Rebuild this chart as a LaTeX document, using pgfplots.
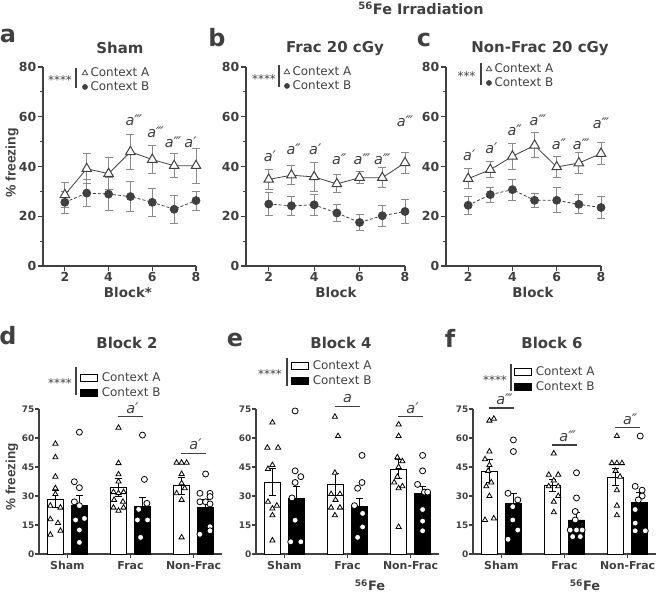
\documentclass[border=0pt]{standalone}
\usepackage{fontspec}
\setmainfont{DejaVu Sans}
\setsansfont{DejaVu Sans}
\newfontfamily\lib{Liberation Sans}
\usepackage{pgfplots}
\pgfplotsset{compat=1.18}
\definecolor{dg}{HTML}{404040}
\definecolor{eg}{HTML}{8A8A8A}
\newcommand{\fs}[1]{\fontsize{#1}{#1}\selectfont}
\newcommand{\ann}[1]{{\itshape\fs{14.5}#1}}

\pgfplotsset{
  dotlegend/.style={legend image code/.code={\draw[##1] plot coordinates {(0bp,0bp)};}},
  boxlegend/.style={legend image code/.code={\draw[##1] (0bp,-3.5bp) rectangle (17bp,3.5bp);}},
  common/.style={scale only axis, axis lines*=left, tick align=outside, clip=false,
     axis line style={line width=1.2bp, dg},
     tick style={line width=1.1bp, dg},
     /pgf/number format/assume math mode=true,
     legend cell align=left},
  topax/.style={common, height=199bp, xmin=1, xmax=8, ymin=0, ymax=80,
     xtick={2,4,6,8}, ytick={0,20,40,60,80}, minor ytick={10,30,50,70},
     major tick length=5bp, minor tick length=3bp,
     tick label style={text=dg, font={\fs{12.5}\bfseries}, inner sep=1.5bp},
     legend style={draw=none, fill=none, font=\fs{12}, text=dg, inner sep=0pt,
        row sep=1.8bp, anchor=north west, nodes={inner sep=0.8bp},
        /tikz/every odd column/.append style={column sep=2bp}}},
  botax/.style={common, width=183bp, height=145bp, xmin=-0.45, xmax=2.45, ymin=0, ymax=75,
     ytick={0,15,30,45,60,75}, xtick={0,1,2}, xticklabels={Sham,Frac,Non-Frac},
     major tick length=4bp,
     xticklabel style={text=dg, font={\fs{11}\bfseries}, inner sep=3bp},
     yticklabel style={text=dg, font={\fs{9}\bfseries}, inner sep=0.5bp},
     legend style={draw=none, fill=none, font=\fs{12}, text=dg, inner sep=0pt,
        row sep=3bp, anchor=north west, nodes={inner sep=0.8bp},
        /tikz/every odd column/.append style={column sep=3bp}}},
  ebtop/.style={forget plot, draw=none, mark=none, error bars/.cd, y dir=both, y explicit,
     error bar style={draw=eg, line width=1bp, solid},
     error mark options={draw=eg, rotate=90, mark size=4bp, line width=1bp, solid}},
  lineA/.style={forget plot, dg, line width=0.8bp, mark=triangle*, mark size=5.5bp,
     mark options={fill=white, line width=1bp}},
  lineB/.style={forget plot, dg, line width=0.8bp, dash pattern=on 3bp off 2bp, mark=*, mark size=4bp,
     mark options={solid, fill=dg}},
  barA/.style={forget plot, ybar, bar width=0.254, bar shift=0pt, fill=white, draw=black, line width=0.9bp,
     error bars/.cd, y dir=both, y explicit, error bar style={draw=black, line width=0.9bp},
     error mark options={draw=black, rotate=90, mark size=3.5bp, line width=0.9bp}},
  barB/.style={forget plot, ybar, bar width=0.254, bar shift=0pt, fill=black, draw=black, line width=0.9bp,
     error bars/.cd, y dir=both, y explicit, error bar style={draw=black, line width=0.9bp},
     error mark options={draw=black, rotate=90, mark size=3.5bp, line width=0.9bp}},
  ptA/.style={forget plot, only marks, mark=triangle*, mark size=3bp, mark options={fill=white, draw=black, line width=0.8bp}},
  ptB/.style={forget plot, only marks, mark=*, mark size=3bp, mark options={fill=white, draw=black, line width=0.8bp}},
}

\begin{document}
\begin{tikzpicture}[x=1bp,y=1bp]
\path[use as bounding box] (0,0) rectangle (660,594);

% ---------------- panel a ----------------
\begin{axis}[topax, at={(43bp,328bp)}, width=153bp, legend style={at={(0.255,1.0)}}]
\addplot[ebtop] coordinates {(2,28.6)+-(0,5) (3,39.1)+-(0,6) (4,37.1)+-(0,6.5) (5,45.9)+-(0,7) (6,42.8)+-(0,5.8) (7,40.3)+-(0,4.8) (8,40.3)+-(0,7)};
\addplot[ebtop] coordinates {(2,25.6)+-(0,4.5) (3,29.3)+-(0,5.5) (4,28.9)+-(0,6.5) (5,27.9)+-(0,6) (6,25.6)+-(0,5.7) (7,22.8)+-(0,5.7) (8,26.3)+-(0,3.8)};
\addplot[lineB] coordinates {(2,25.6) (3,29.3) (4,28.9) (5,27.9) (6,25.6) (7,22.8) (8,26.3)};
\addplot[lineA] coordinates {(2,28.6) (3,39.1) (4,37.1) (5,45.9) (6,42.8) (7,40.3) (8,40.3)};
\addlegendimage{dotlegend, dg, mark=triangle*, mark size=3.2bp, mark options={fill=white, line width=0.7bp}}
\addlegendentry{Context A}
\addlegendimage{dotlegend, dg, mark=*, mark size=2.6bp, mark options={fill=dg}}
\addlegendentry{Context B}
\node[anchor=base, text=dg] at (axis cs:5.15,56.6) {\ann{a‴}};
\node[anchor=base, text=dg] at (axis cs:6.15,51.7) {\ann{a‴}};
\node[anchor=base, text=dg] at (axis cs:6.95,47.7) {\ann{a‴}};
\node[anchor=base, text=dg] at (axis cs:7.75,47.7) {\ann{a′}};
\end{axis}

% ---------------- panel b ----------------
\begin{axis}[topax, at={(246bp,328bp)}, width=159bp, legend style={at={(0.239,1.005)}}]
\addplot[ebtop] coordinates {(2,34.8)+-(0,4) (3,36.5)+-(0,3.7) (4,35.8)+-(0,5.7) (5,33)+-(0,3.6) (6,35.5)+-(0,2.5) (7,35.5)+-(0,4) (8,41.5)+-(0,4.2)};
\addplot[ebtop] coordinates {(2,24.9)+-(0,4.8) (3,24.2)+-(0,3.8) (4,24.6)+-(0,4.2) (5,21.3)+-(0,3.5) (6,17.5)+-(0,3.3) (7,20.2)+-(0,4.2) (8,21.9)+-(0,4.7)};
\addplot[lineB] coordinates {(2,24.9) (3,24.2) (4,24.6) (5,21.3) (6,17.5) (7,20.2) (8,21.9)};
\addplot[lineA] coordinates {(2,34.8) (3,36.5) (4,35.8) (5,33) (6,35.5) (7,35.5) (8,41.5)};
\addlegendimage{dotlegend, dg, mark=triangle*, mark size=3.2bp, mark options={fill=white, line width=0.7bp}}
\addlegendentry{Context A}
\addlegendimage{dotlegend, dg, mark=*, mark size=2.6bp, mark options={fill=dg}}
\addlegendentry{Context B}
\node[anchor=base, text=dg] at (axis cs:2.05,42) {\ann{a′}};
\node[anchor=base, text=dg] at (axis cs:3.1,44.8) {\ann{a″}};
\node[anchor=base, text=dg] at (axis cs:4.05,44.8) {\ann{a′}};
\node[anchor=base, text=dg] at (axis cs:5.1,40.8) {\ann{a″}};
\node[anchor=base, text=dg] at (axis cs:6.1,40.8) {\ann{a‴}};
\node[anchor=base, text=dg] at (axis cs:7.0,40.8) {\ann{a‴}};
\node[anchor=base, text=dg] at (axis cs:8.0,56.2) {\ann{a‴}};
\end{axis}

% ---------------- panel c ----------------
\begin{axis}[topax, at={(446bp,328bp)}, width=155bp, legend style={at={(0.258,1.02)}}]
\addplot[ebtop] coordinates {(2,35.1)+-(0,4) (3,38.7)+-(0,3.2) (4,44.1)+-(0,5.3) (5,48.5)+-(0,5) (6,39.8)+-(0,4.2) (7,41.4)+-(0,4.3) (8,45.2)+-(0,4.3)};
\addplot[ebtop] coordinates {(2,24.4)+-(0,3.7) (3,28.7)+-(0,3) (4,30.7)+-(0,4.2) (5,26.4)+-(0,2.8) (6,26.4)+-(0,5) (7,24.8)+-(0,3.8) (8,23.5)+-(0,4.5)};
\addplot[lineB] coordinates {(2,24.4) (3,28.7) (4,30.7) (5,26.4) (6,26.4) (7,24.8) (8,23.5)};
\addplot[lineA] coordinates {(2,35.1) (3,38.7) (4,44.1) (5,48.5) (6,39.8) (7,41.4) (8,45.2)};
\addlegendimage{dotlegend, dg, mark=triangle*, mark size=3.2bp, mark options={fill=white, line width=0.7bp}}
\addlegendentry{Context A}
\addlegendimage{dotlegend, dg, mark=*, mark size=2.6bp, mark options={fill=dg}}
\addlegendentry{Context B}
\node[anchor=base, text=dg] at (axis cs:2.05,42.4) {\ann{a′}};
\node[anchor=base, text=dg] at (axis cs:3.05,45.3) {\ann{a′}};
\node[anchor=base, text=dg] at (axis cs:4.1,52.5) {\ann{a″}};
\node[anchor=base, text=dg] at (axis cs:5.15,56.6) {\ann{a‴}};
\node[anchor=base, text=dg] at (axis cs:6.1,46.8) {\ann{a″}};
\node[anchor=base, text=dg] at (axis cs:7.1,46.8) {\ann{a‴}};
\node[anchor=base, text=dg] at (axis cs:8.0,55.4) {\ann{a‴}};
\end{axis}

% ---------------- panel d ----------------
\begin{axis}[botax, at={(39bp,40bp)}, legend style={at={(0.224,1.255)}}]
\addplot[barA] coordinates {(-0.19,28.4)+-(0,4.5) (0.81,34.5)+-(0,4.5) (1.81,35.2)+-(0,4.5)};
\addplot[barB] coordinates {(0.19,25)+-(0,5.5) (1.19,24.5)+-(0,5) (2.19,24.3)+-(0,3.7)};
\addplot[ptA] coordinates {(-0.19,57) (-0.19,50) (-0.19,40) (-0.19,34) (-0.19,31) (-0.27,25) (-0.11,24) (-0.27,18) (-0.15,16) (-0.11,12) (-0.27,10)
  (0.81,65.3) (0.81,47) (0.81,41.2) (0.81,37.5) (0.73,32) (0.81,31.5) (0.89,32) (0.74,28) (0.88,27) (0.73,24) (0.89,24) (0.81,22.4)
  (1.73,47.2) (1.81,47.2) (1.89,47.2) (1.81,41.4) (1.81,36.6) (1.86,34) (1.73,31.4) (1.81,28) (1.81,8.6)};
\addplot[ptB] coordinates {(0.19,63) (0.11,37.4) (0.19,34.3) (0.11,27) (0.19,25) (0.27,18.4) (0.13,17.6) (0.19,12.4) (0.19,6)
  (1.19,61.5) (1.22,38.6) (1.26,26.2) (1.13,23.1) (1.27,17.6) (1.11,17.6) (1.16,8.6)
  (2.19,41.4) (2.1,31.4) (2.26,31.4) (2.26,29.7) (2.1,27) (2.19,27) (2.26,25.9) (2.26,14.1) (2.1,10.2) (2.26,12)};
\addlegendimage{boxlegend, draw=black, fill=white, line width=0.8bp}
\addlegendentry{Context A}
\addlegendimage{boxlegend, draw=black, fill=black, line width=0.8bp}
\addlegendentry{Context B}
\draw[dg, line width=1.1bp] (axis cs:0.8,70.9) -- (axis cs:1.2,70.9);
\node[anchor=base, text=dg] at (axis cs:1.03,72.9) {\ann{a′}};
\draw[dg, line width=1.1bp] (axis cs:1.8,52.2) -- (axis cs:2.2,52.2);
\node[anchor=base, text=dg] at (axis cs:2.03,54.2) {\ann{a′}};
\end{axis}

% ---------------- panel e ----------------
\begin{axis}[botax, at={(256bp,40bp)}, legend style={at={(0.191,1.338)}}]
\addplot[barA] coordinates {(-0.19,37.2)+-(0,7) (0.81,35.9)+-(0,5.8) (1.81,43.9)+-(0,4.8)};
\addplot[barB] coordinates {(0.19,28.6)+-(0,6.5) (1.19,24.5)+-(0,4.3) (2.19,31.5)+-(0,3.2)};
\addplot[ptA] coordinates {(-0.19,68) (-0.27,55) (-0.1,55) (-0.19,46) (-0.26,44) (-0.26,27) (-0.12,25) (-0.19,23.5) (-0.19,20) (-0.19,7)
  (0.8,71) (0.85,61) (0.8,42) (0.74,31) (0.88,31) (0.81,28) (0.74,24) (0.88,24) (0.8,20)
  (1.81,67) (1.81,61) (1.79,50) (1.87,48) (1.81,45) (1.79,40) (1.74,37) (1.81,34) (1.87,35) (1.81,14)};
\addplot[ptB] coordinates {(0.17,74) (0.17,43) (0.26,40) (0.17,37) (0.12,29) (0.17,17.5) (0.1,6.3) (0.26,6.3)
  (1.23,51) (1.23,37) (1.16,34) (1.11,25) (1.24,21) (1.24,14) (1.16,8.6)
  (2.19,51) (2.19,43) (2.11,36) (2.22,32) (2.27,32) (2.19,23) (2.19,17) (2.19,12)};
\addlegendimage{boxlegend, draw=black, fill=white, line width=0.8bp}
\addlegendentry{Context A}
\addlegendimage{boxlegend, draw=black, fill=black, line width=0.8bp}
\addlegendentry{Context B}
\draw[dg, line width=1.1bp] (axis cs:0.8,76.5) -- (axis cs:1.2,76.5);
\node[anchor=base, text=dg] at (axis cs:1.0,78.5) {\ann{a}};
\draw[dg, line width=1.1bp] (axis cs:1.8,70.9) -- (axis cs:2.2,70.9);
\node[anchor=base, text=dg] at (axis cs:2.03,72.9) {\ann{a′}};
\end{axis}

% ---------------- panel f ----------------
\begin{axis}[botax, at={(473bp,40bp)}, legend style={at={(0.224,1.297)}}]
\addplot[barA] coordinates {(-0.19,42.9)+-(0,5.8) (0.81,35.5)+-(0,3.3) (1.81,39.8)+-(0,4.2)};
\addplot[barB] coordinates {(0.19,25.9)+-(0,5.3) (1.19,17.6)+-(0,3.8) (2.19,26.7)+-(0,5)};
\addplot[ptA] coordinates {(-0.19,69) (-0.12,70) (-0.19,53) (-0.26,49) (-0.19,46) (-0.21,43) (-0.16,37) (-0.24,35) (-0.19,30) (-0.26,17.6) (-0.12,18.4)
  (0.83,52) (0.75,41) (0.9,41) (0.83,38) (0.75,35) (0.9,35) (0.9,30) (0.83,27) (0.83,21.6)
  (1.83,61) (1.75,47) (1.83,47) (1.91,47) (1.81,43) (1.88,40) (1.83,33) (1.83,25) (1.83,20)};
\addplot[ptB] coordinates {(0.19,59) (0.19,53) (0.105,31.4) (0.26,28) (0.18,24.5) (0.18,17.6) (0.26,12.4) (0.105,7.6)
  (1.19,42) (1.19,29) (1.17,22) (1.17,17.6) (1.09,12.4) (1.19,12.4) (1.28,12.4) (1.13,9) (1.25,9)
  (2.2,61) (2.12,35) (2.23,33) (2.23,30) (2.17,28) (2.12,23) (2.12,16) (2.12,12) (2.28,12)};
\addlegendimage{boxlegend, draw=black, fill=white, line width=0.8bp}
\addlegendentry{Context A}
\addlegendimage{boxlegend, draw=black, fill=black, line width=0.8bp}
\addlegendentry{Context B}
\draw[dg, line width=1.1bp] (axis cs:-0.2,75.5) -- (axis cs:0.2,75.5);
\node[anchor=base, text=dg] at (axis cs:0.05,77.5) {\ann{a‴}};
\draw[dg, line width=1.1bp] (axis cs:0.8,56.4) -- (axis cs:1.2,56.4);
\node[anchor=base, text=dg] at (axis cs:1.05,58.4) {\ann{a‴}};
\draw[dg, line width=1.1bp] (axis cs:1.8,65.2) -- (axis cs:2.2,65.2);
\node[anchor=base, text=dg] at (axis cs:2.04,67.2) {\ann{a″}};
\end{axis}

% ---------------- texts ----------------
\node[anchor=base, text=dg, font={\fs{14.5}\bfseries}] at (421,579) {\textsuperscript{56}Fe Irradiation};
\foreach \l/\x/\y in {a/8/551, b/217/547, c/424/547, d/8/249, e/235/247, f/450/246}
  \node[anchor=base, text=dg, font={\fs{24}\bfseries}] at (\x,\y) {\l};
\node[anchor=base, text=dg, font={\fs{15}\bfseries}] at (120,540) {Sham};
\node[anchor=base, text=dg, font={\fs{15}\bfseries}] at (335,541) {Frac 20 cGy};
\node[anchor=base, text=dg, font={\fs{15}\bfseries}] at (540,541) {Non-Frac 20 cGy};
\node[anchor=base, text=dg, font={\fs{13.5}\bfseries}] at (128,296) {Block*};
\node[anchor=base, text=dg, font={\fs{13.5}\bfseries}] at (336,296) {Block};
\node[anchor=base, text=dg, font={\fs{13.5}\bfseries}] at (533,296) {Block};
\node[rotate=90, text=dg, font={\lib\fs{14}\bfseries}] at (12,431) {\% freezing};
\node[rotate=90, text=dg, font={\lib\fs{13.5}\bfseries}] at (12,117) {\% freezing};
\node[anchor=base, text=dg, font={\fs{15}\bfseries}] at (127,245) {Block 2};
\node[anchor=base, text=dg, font={\fs{15}\bfseries}] at (341,245) {Block 4};
\node[anchor=base, text=dg, font={\fs{15}\bfseries}] at (552,245) {Block 6};
\node[anchor=base, text=dg, font={\fs{13}\bfseries}] at (370,3) {\textsuperscript{56}Fe};
\node[anchor=base, text=dg, font={\fs{13}\bfseries}] at (585,3) {\textsuperscript{56}Fe};
% significance stars and brackets
\node[anchor=base, text=dg, font=\fs{12}] at (60,509) {****};
\draw[dg, line width=1.3bp] (76,526) -- (76,506);
\node[anchor=base, text=dg, font=\fs{12}] at (264,510) {****};
\draw[dg, line width=1.3bp] (279,529) -- (279,507);
\node[anchor=base, text=dg, font=\fs{12}] at (466.5,513) {***};
\draw[dg, line width=1.3bp] (481,531) -- (481,509);
\node[anchor=base, text=dg, font=\fs{12}] at (60,206) {****};
\draw[dg, line width=1.3bp] (76,227) -- (76,199);
\node[anchor=base, text=dg, font=\fs{12}] at (270,215) {****};
\draw[dg, line width=1.3bp] (287,236) -- (287,208);
\node[anchor=base, text=dg, font=\fs{12}] at (495,209) {****};
\draw[dg, line width=1.3bp] (511,230) -- (511,203);
\end{tikzpicture}
\end{document}
